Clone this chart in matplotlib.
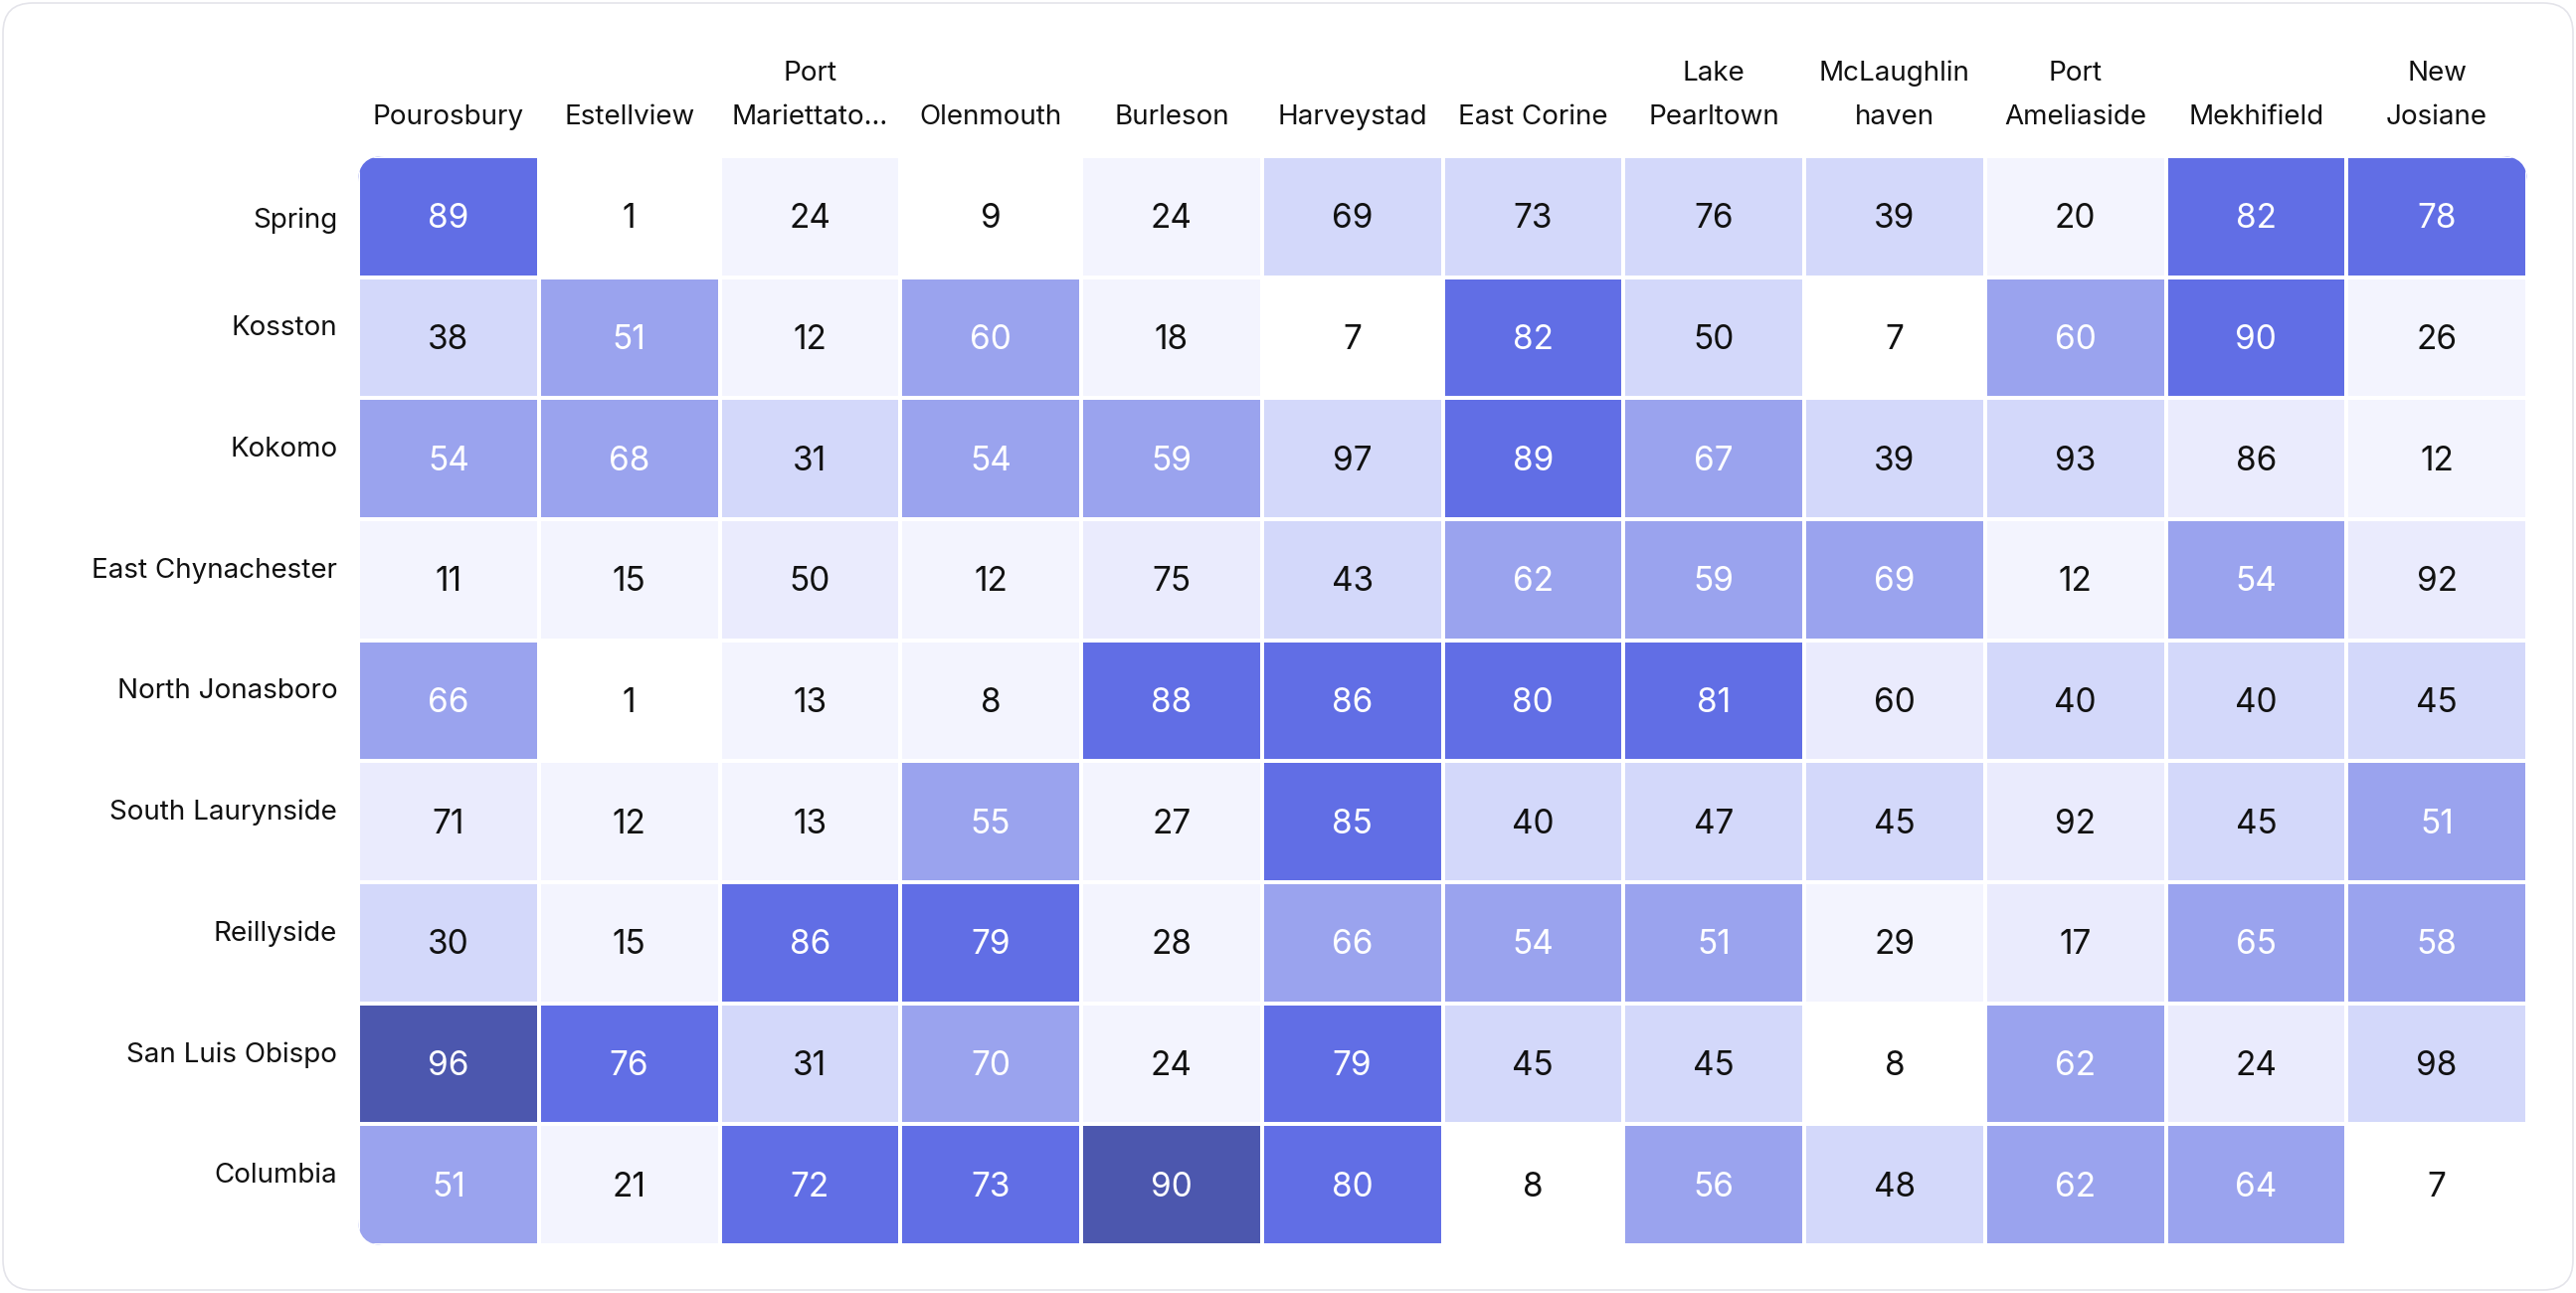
import matplotlib.pyplot as plt
import matplotlib.transforms as mtransforms
import numpy as np
from matplotlib.colors import ListedColormap, BoundaryNorm
from matplotlib.patches import FancyBboxPatch

plt.rcParams['font.family'] = ['Inter', 'DejaVu Sans']

rows = ["Spring", "Kosston", "Kokomo", "East Chynachester", "North Jonasboro",
        "South Laurynside", "Reillyside", "San Luis Obispo", "Columbia"]
cols = ["Pourosbury", "Estellview", "Port\nMariettato...", "Olenmouth", "Burleson",
        "Harveystad", "East Corine", "Lake\nPearltown", "McLaughlin\nhaven",
        "Port\nAmeliaside", "Mekhifield", "New\nJosiane"]

# numbers printed in the cells
values = [
    [89, 1, 24, 9, 24, 69, 73, 76, 39, 20, 82, 78],
    [38, 51, 12, 60, 18, 7, 82, 50, 7, 60, 90, 26],
    [54, 68, 31, 54, 59, 97, 89, 67, 39, 93, 86, 12],
    [11, 15, 50, 12, 75, 43, 62, 59, 69, 12, 54, 92],
    [66, 1, 13, 8, 88, 86, 80, 81, 60, 40, 40, 45],
    [71, 12, 13, 55, 27, 85, 40, 47, 45, 92, 45, 51],
    [30, 15, 86, 79, 28, 66, 54, 51, 29, 17, 65, 58],
    [96, 76, 31, 70, 24, 79, 45, 45, 8, 62, 24, 98],
    [51, 21, 72, 73, 90, 80, 8, 56, 48, 62, 64, 7],
]
# colour band of each cell (0 = lightest .. 6 = darkest)
levels = [
    [5, 0, 1, 0, 1, 3, 3, 3, 3, 1, 5, 5],
    [3, 4, 1, 4, 1, 0, 5, 3, 0, 4, 5, 1],
    [4, 4, 3, 4, 4, 3, 5, 4, 3, 3, 2, 1],
    [1, 1, 2, 1, 2, 3, 4, 4, 4, 1, 4, 2],
    [4, 0, 1, 1, 5, 5, 5, 5, 2, 3, 3, 3],
    [2, 1, 1, 4, 1, 5, 3, 3, 3, 2, 3, 4],
    [3, 1, 5, 5, 1, 4, 4, 4, 1, 2, 4, 4],
    [6, 5, 3, 4, 1, 5, 3, 3, 0, 4, 2, 3],
    [4, 1, 5, 5, 6, 5, 0, 4, 3, 4, 4, 0],
]
palette = ["#FFFFFF", "#F3F4FE", "#EAEBFD", "#D3D8FA", "#9AA3EE", "#616EE5", "#4C57AE"]

values = np.array(values)
levels = np.array(levels)

fig = plt.figure(figsize=(25.9, 13), dpi=100)
left, bottom, width, height = 3.60, 0.48, 21.81, 10.95
ax = fig.add_axes([left / 25.9, bottom / 13, width / 25.9, height / 13])

# outer card
card = FancyBboxPatch((0.03, 0.03), 25.84, 12.94, boxstyle="round,pad=0,rounding_size=0.3",
                      transform=fig.dpi_scale_trans, facecolor="white", edgecolor="#E4E4EA",
                      linewidth=1.2, zorder=-10)
fig.patches.append(card)

cmap = ListedColormap(palette)
norm = BoundaryNorm(np.arange(-0.5, 7.5, 1), cmap.N)
mesh = ax.pcolormesh(levels, cmap=cmap, norm=norm, edgecolors="white", linewidth=1.6)
ax.set_xlim(0, len(cols))
ax.set_ylim(len(rows), 0)

# rounded outer corners of the grid
clip = FancyBboxPatch((0, 0), 1, 1, boxstyle="round,pad=0,rounding_size=0.012",
                      mutation_aspect=width / height,
                      transform=ax.transAxes, facecolor="none", edgecolor="none")
ax.add_patch(clip)
mesh.set_clip_path(clip)

for i in range(len(rows)):
    for j in range(len(cols)):
        c = "white" if levels[i, j] >= 4 else "#111111"
        ax.text(j + 0.5, i + 0.52, str(values[i, j]), ha="center", va="center",
                fontsize=24, color=c)

ax.xaxis.tick_top()
ax.set_xticks(np.arange(len(cols)) + 0.5)
ax.set_xticklabels(cols, fontsize=20, linespacing=1.9, color="#111111")
ax.set_yticks(np.arange(len(rows)) + 0.4)
ax.set_yticklabels(rows, fontsize=20, color="#111111")
ax.tick_params(length=0)
ax.tick_params(axis="x", pad=19)
ax.tick_params(axis="y", pad=15)
for s in ax.spines.values():
    s.set_visible(False)

# first row label sits a little lower in the original
first = ax.get_yticklabels()[0]
first.set_transform(first.get_transform() + mtransforms.ScaledTranslation(0, -0.13, fig.dpi_scale_trans))

fig.savefig("out.png", dpi=100, facecolor="white")
